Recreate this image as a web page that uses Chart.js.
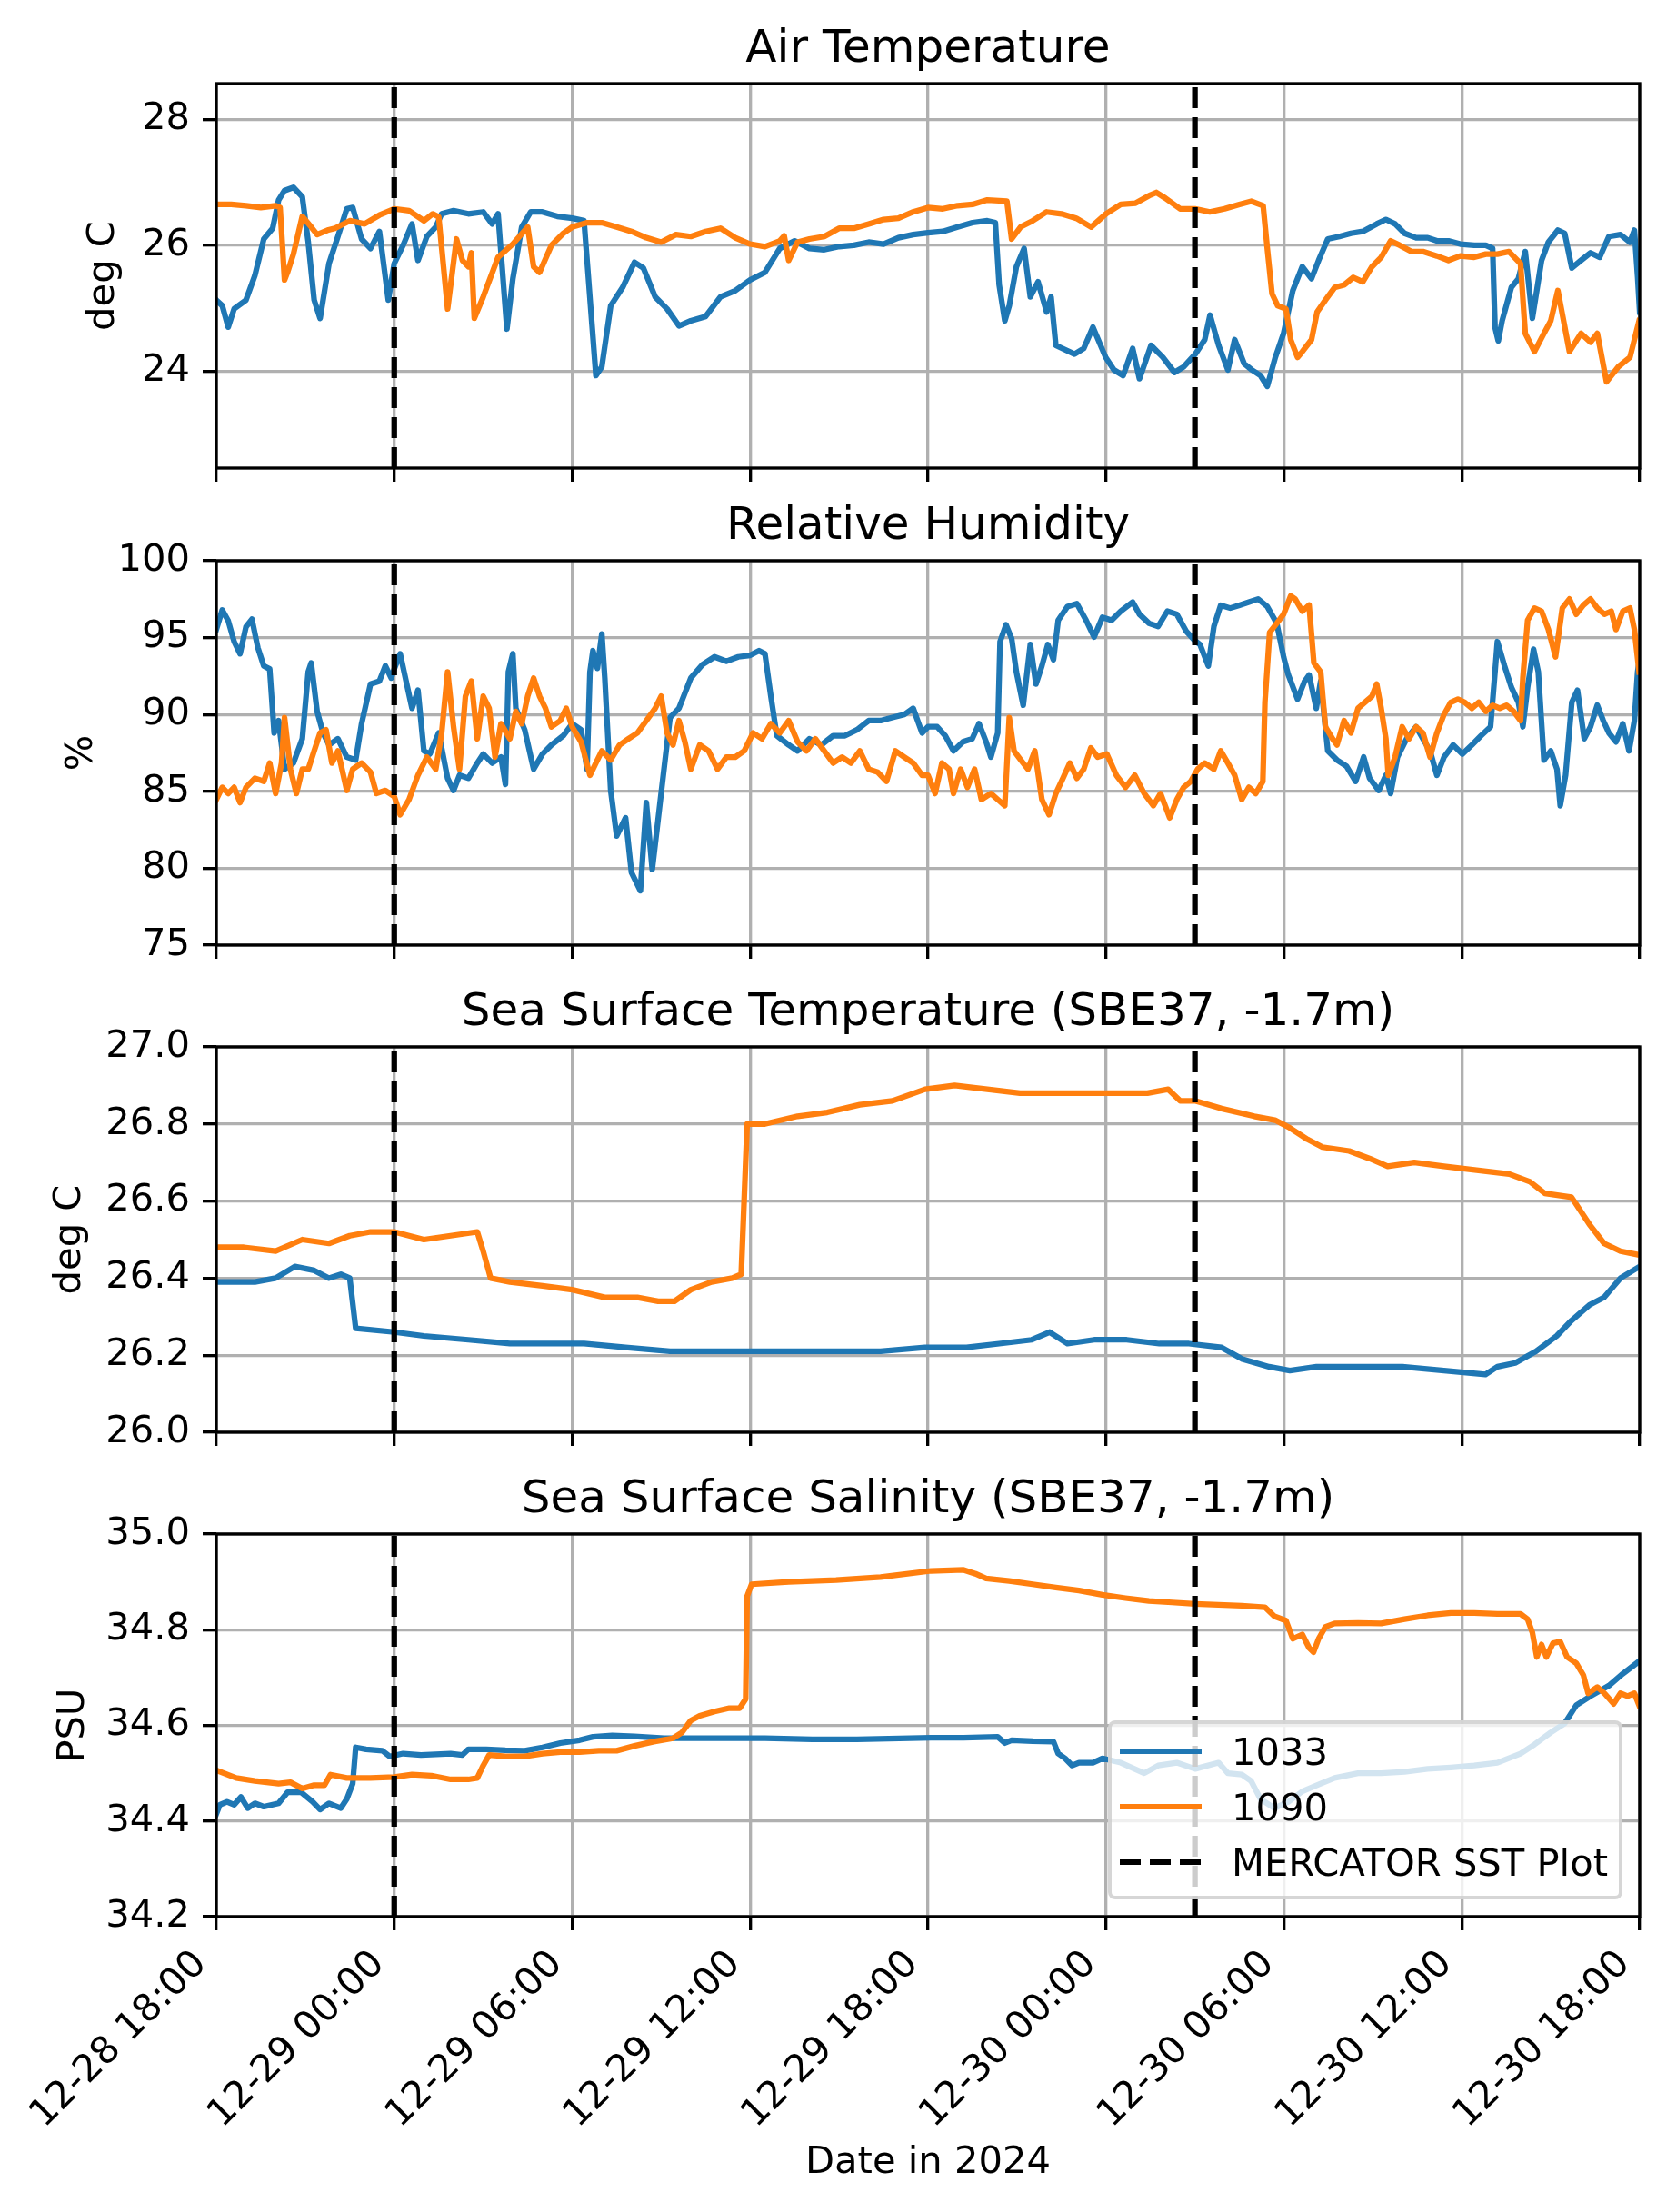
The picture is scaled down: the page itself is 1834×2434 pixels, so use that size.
<!DOCTYPE html>
<html>
<head>
<meta charset="utf-8">
<title>SBE37 / met sensors 1033 vs 1090</title>
<script src="https://cdn.jsdelivr.net/npm/chart.js@4.4.1/dist/chart.umd.min.js"></script>
<style>
  body { margin: 0; background: #fff; }
  #page { position: relative; width: 1834px; height: 2434px; overflow: hidden; font-family: "DejaVu Sans", sans-serif; }
  #page canvas { position: absolute; left: 0; }
  #legend {
    position: absolute; left: 1219px; top: 1893px; width: 566px; height: 197px;
    box-sizing: border-box; background: rgba(255, 255, 255, 0.8);
    border: 4px solid rgba(204, 204, 204, 0.8); border-radius: 8px;
    font-size: 41.67px; color: #000;
  }
  #legend .row { position: absolute; left: 0; right: 0; height: 61px; line-height: 61px; }
  #legend .handle { position: absolute; left: 9px; top: 27px; width: 90px; height: 6.25px; }
  #legend .text { position: absolute; left: 132px; top: 0; white-space: nowrap; }
</style>
</head>
<body>
<div id="page">
  <canvas id="airTemp"></canvas>
  <canvas id="humidity"></canvas>
  <canvas id="seaTemp"></canvas>
  <canvas id="salinity"></canvas>
  <div id="legend"></div>
</div>
<script>
// =========================
// DATA  (x = hours after 2024-12-28 18:00)
// =========================

const sensorNames = ["1033", "1090"];
const mercatorLabel = "MERCATOR SST Plot";
const mercatorHours = [6, 33];   // 12-29 00:00 and 12-30 03:00

const xTickHours = [0, 6, 12, 18, 24, 30, 36, 42, 48];
const xTickLabels = ["12-28 18:00", "12-29 00:00", "12-29 06:00", "12-29 12:00", "12-29 18:00",
                     "12-30 00:00", "12-30 06:00", "12-30 12:00", "12-30 18:00"];

// Air temperature (deg C)
const airT1033 = [[0,25.13],[0.2,25.04],[0.4,24.70],[0.6,24.99],[1,25.13],[1.3,25.52],[1.6,26.10],[1.9,26.27],[2.1,26.72],[2.3,26.87],[2.6,26.92],[2.9,26.77],[3.1,26.05],[3.3,25.13],[3.5,24.84],[3.8,25.71],[4.1,26.14],[4.4,26.58],[4.6,26.60],[4.9,26.10],[5.2,25.95],[5.5,26.22],[5.8,25.13],[6,25.71],[6.3,26.00],[6.6,26.34],[6.8,25.76],[7.1,26.14],[7.4,26.29],[7.6,26.50],[8,26.55],[8.5,26.50],[9,26.53],[9.3,26.34],[9.5,26.50],[9.8,24.67],[10,25.47],[10.3,26.29],[10.6,26.53],[11,26.53],[11.5,26.46],[12,26.43],[12.4,26.39],[12.8,23.93],[13,24.07],[13.3,25.04],[13.7,25.33],[14.1,25.73],[14.4,25.64],[14.8,25.18],[15.2,24.99],[15.6,24.72],[16,24.80],[16.5,24.87],[17,25.18],[17.5,25.28],[18,25.45],[18.5,25.57],[19,25.95],[19.5,26.07],[20,25.95],[20.5,25.93],[21,25.98],[21.5,26.00],[22,26.05],[22.5,26.02],[23,26.12],[23.5,26.17],[24,26.20],[24.5,26.22],[25,26.29],[25.5,26.36],[26,26.39],[26.27,26.36],[26.4,25.37],[26.59,24.80],[26.74,25.04],[26.98,25.66],[27.24,25.95],[27.45,25.18],[27.71,25.42],[28,24.94],[28.15,25.18],[28.31,24.41],[28.94,24.27],[29.25,24.36],[29.56,24.70],[29.99,24.22],[30.27,24.02],[30.58,23.93],[30.9,24.36],[31.13,23.88],[31.52,24.41],[31.92,24.22],[32.31,23.98],[32.62,24.07],[33.01,24.27],[33.33,24.50],[33.51,24.89],[33.8,24.41],[34.11,24.02],[34.34,24.50],[34.66,24.12],[34.92,24.02],[35.21,23.93],[35.44,23.76],[35.71,24.22],[35.99,24.60],[36.3,25.28],[36.62,25.66],[36.93,25.47],[37.17,25.76],[37.48,26.10],[37.87,26.14],[38.26,26.19],[38.66,26.22],[39.13,26.34],[39.44,26.41],[39.75,26.34],[40.07,26.19],[40.46,26.12],[40.85,26.12],[41.16,26.07],[41.55,26.07],[41.95,26.02],[42.42,26.00],[42.81,26.00],[43.04,25.95],[43.12,24.70],[43.23,24.48],[43.36,24.80],[43.67,25.33],[43.91,25.47],[44.14,25.90],[44.38,24.84],[44.69,25.76],[44.92,26.05],[45.24,26.24],[45.47,26.19],[45.71,25.64],[46.02,25.76],[46.34,25.88],[46.65,25.81],[46.96,26.14],[47.35,26.17],[47.67,26.05],[47.82,26.24],[47.93,25.50],[48,24.94]];
const airT1090 = [[0,26.65],[0.5,26.65],[1,26.63],[1.5,26.60],[2,26.63],[2.15,26.60],[2.3,25.45],[2.4,25.57],[2.6,25.86],[2.9,26.46],[3.2,26.29],[3.4,26.17],[3.75,26.24],[4,26.27],[4.5,26.39],[5,26.34],[5.5,26.48],[6,26.58],[6.5,26.55],[7,26.39],[7.3,26.50],[7.5,26.45],[7.8,24.99],[8.1,26.10],[8.3,25.76],[8.5,25.66],[8.6,25.88],[8.7,24.84],[9,25.18],[9.5,25.81],[10,26.02],[10.5,26.29],[10.7,25.66],[10.9,25.57],[11.3,26.00],[11.7,26.19],[12,26.29],[12.5,26.36],[13,26.36],[13.5,26.29],[14,26.22],[14.5,26.12],[15,26.05],[15.5,26.17],[16,26.14],[16.5,26.22],[17,26.27],[17.5,26.12],[18,26.02],[18.5,25.98],[19,26.07],[19.15,26.15],[19.3,25.76],[19.6,26.05],[20,26.10],[20.5,26.14],[21,26.27],[21.5,26.27],[22,26.34],[22.5,26.41],[23,26.43],[23.5,26.53],[24,26.60],[24.5,26.58],[25,26.63],[25.5,26.65],[26,26.72],[26.66,26.70],[26.82,26.10],[27.12,26.29],[27.53,26.39],[28,26.53],[28.5,26.50],[29,26.43],[29.5,26.29],[30,26.50],[30.5,26.65],[31,26.67],[31.5,26.80],[31.7,26.84],[32,26.75],[32.5,26.58],[33,26.58],[33.5,26.53],[34,26.58],[34.5,26.65],[34.9,26.70],[35.3,26.63],[35.44,25.95],[35.6,25.23],[35.79,25.04],[36.07,24.99],[36.23,24.50],[36.46,24.22],[36.62,24.31],[36.93,24.50],[37.12,24.94],[37.4,25.13],[37.71,25.33],[38.03,25.37],[38.34,25.49],[38.66,25.42],[38.97,25.66],[39.28,25.81],[39.6,26.07],[39.91,26.00],[40.3,25.90],[40.69,25.90],[41.16,25.83],[41.55,25.76],[41.95,25.83],[42.42,25.81],[42.81,25.86],[43.2,25.86],[43.59,25.90],[43.98,25.71],[44.14,24.60],[44.45,24.31],[44.77,24.60],[45,24.80],[45.24,25.28],[45.63,24.31],[46.02,24.60],[46.34,24.46],[46.57,24.60],[46.88,23.83],[47.28,24.07],[47.67,24.22],[47.98,24.80]];

// Relative humidity (%)
const rh1033 = [[0,95.53],[0.2,96.80],[0.4,96.10],[0.6,94.74],[0.8,93.95],[1,95.70],[1.2,96.20],[1.4,94.35],[1.6,93.16],[1.8,92.96],[1.95,88.80],[2.1,89.60],[2.3,86.44],[2.6,86.84],[2.9,88.42],[3.1,92.77],[3.2,93.36],[3.4,90.20],[3.6,88.80],[3.8,88.02],[4.1,88.42],[4.4,87.23],[4.7,87.04],[4.9,89.40],[5.2,91.98],[5.5,92.17],[5.7,93.16],[5.9,92.37],[6,92.96],[6.2,93.95],[6.4,92.17],[6.6,90.40],[6.8,91.58],[7,87.63],[7.2,87.43],[7.5,88.80],[7.8,85.85],[8,85.06],[8.2,86.05],[8.5,85.85],[8.8,86.84],[9,87.43],[9.3,86.84],[9.6,87.23],[9.75,85.45],[9.85,92.77],[10,93.95],[10.1,90.40],[10.4,89.00],[10.7,86.44],[11,87.43],[11.3,88.02],[11.7,88.62],[12,89.40],[12.3,89.00],[12.5,86.44],[12.6,92.77],[12.7,94.15],[12.85,93.00],[13,95.24],[13.1,92.37],[13.3,85.06],[13.5,82.10],[13.8,83.28],[14,79.72],[14.3,78.54],[14.5,84.27],[14.7,79.92],[15,84.86],[15.3,89.80],[15.6,90.40],[16,92.37],[16.4,93.26],[16.8,93.75],[17.2,93.46],[17.6,93.75],[18,93.85],[18.3,94.15],[18.5,93.95],[18.7,91.19],[18.9,88.62],[19.3,88.02],[19.6,87.63],[20,88.42],[20.4,88.02],[20.8,88.62],[21.2,88.62],[21.6,89.00],[22,89.60],[22.4,89.60],[22.8,89.80],[23.2,90.00],[23.5,90.40],[23.8,88.80],[24,89.20],[24.31,89.20],[24.58,88.62],[24.86,87.63],[25.18,88.22],[25.49,88.42],[25.72,89.40],[25.96,88.22],[26.12,87.23],[26.35,88.80],[26.43,94.74],[26.63,95.83],[26.82,94.94],[26.98,92.77],[27.21,90.60],[27.45,94.55],[27.64,91.98],[27.84,93.16],[28.04,94.55],[28.23,93.56],[28.39,96.13],[28.7,97.02],[29.02,97.21],[29.33,96.13],[29.6,95.04],[29.88,96.32],[30.19,96.13],[30.5,96.72],[30.9,97.31],[31.13,96.52],[31.45,95.93],[31.76,95.73],[32.07,96.72],[32.39,96.52],[32.7,95.43],[32.98,94.84],[33.17,94.55],[33.45,93.16],[33.64,95.73],[33.87,97.11],[34.19,96.92],[34.5,97.11],[34.82,97.31],[35.13,97.51],[35.44,97.02],[35.76,95.93],[35.99,93.75],[36.15,92.57],[36.46,90.99],[36.7,92.17],[36.85,92.57],[37.09,90.40],[37.24,92.17],[37.48,87.63],[37.79,87.04],[38.11,86.64],[38.42,85.65],[38.69,87.23],[38.89,85.85],[39.2,85.06],[39.44,86.05],[39.6,84.86],[39.83,87.23],[40.14,88.42],[40.46,89.20],[40.69,88.42],[40.93,87.63],[41.16,86.05],[41.4,87.23],[41.71,88.02],[42.02,87.43],[42.34,88.02],[42.65,88.62],[42.97,89.20],[43.12,92.77],[43.2,94.74],[43.44,93.16],[43.67,91.78],[43.91,90.79],[44.06,89.20],[44.22,91.78],[44.42,94.25],[44.58,92.77],[44.77,87.04],[45,87.63],[45.21,86.44],[45.32,84.07],[45.5,86.05],[45.71,90.79],[45.9,91.58],[46.13,88.42],[46.34,89.20],[46.57,90.60],[46.77,89.60],[46.96,88.80],[47.2,88.22],[47.43,89.40],[47.64,87.63],[47.82,89.60],[47.93,92.77],[48,93.75]];
const rh1090 = [[0,84.47],[0.2,85.26],[0.4,84.86],[0.6,85.26],[0.8,84.27],[1,85.26],[1.3,85.85],[1.6,85.65],[1.8,86.84],[2,84.86],[2.2,86.84],[2.3,89.80],[2.5,86.44],[2.7,84.86],[2.9,86.44],[3.1,86.44],[3.3,87.63],[3.5,88.80],[3.7,89.00],[3.9,86.84],[4.1,87.63],[4.4,85.06],[4.6,86.44],[4.9,86.84],[5.2,86.25],[5.4,84.86],[5.7,85.06],[6,84.67],[6.2,83.48],[6.5,84.47],[6.8,86.05],[7.1,87.23],[7.4,86.44],[7.6,88.80],[7.8,92.77],[8,89.20],[8.2,86.44],[8.4,91.19],[8.6,92.17],[8.8,88.42],[9,91.19],[9.2,90.40],[9.4,87.23],[9.6,89.40],[9.9,88.42],[10.1,90.20],[10.3,89.40],[10.5,91.19],[10.7,92.37],[10.9,91.19],[11.1,90.40],[11.3,89.20],[11.6,89.60],[11.8,90.40],[12,89.20],[12.3,88.22],[12.6,86.05],[12.8,86.84],[13,87.63],[13.3,87.04],[13.6,88.02],[13.9,88.42],[14.2,88.80],[14.5,89.60],[14.8,90.40],[15,91.19],[15.2,88.80],[15.4,88.02],[15.6,89.60],[15.8,88.22],[16,86.44],[16.3,88.02],[16.6,87.63],[16.9,86.44],[17.2,87.23],[17.5,87.23],[17.8,87.63],[18.1,88.80],[18.4,88.42],[18.7,89.40],[19,88.80],[19.3,89.60],[19.6,88.22],[19.9,87.63],[20.2,88.42],[20.5,87.63],[20.8,86.84],[21.1,87.23],[21.4,86.84],[21.7,87.63],[22,86.44],[22.3,86.25],[22.6,85.65],[22.9,87.63],[23.2,87.23],[23.5,86.84],[23.8,86.05],[24,86.05],[24.24,84.86],[24.47,86.84],[24.71,86.44],[24.86,84.86],[25.1,86.44],[25.33,85.26],[25.57,86.44],[25.8,84.47],[26.12,84.86],[26.35,84.47],[26.59,84.07],[26.74,89.80],[26.9,87.63],[27.13,87.04],[27.37,86.44],[27.6,87.63],[27.84,84.47],[28.08,83.48],[28.31,84.86],[28.55,85.85],[28.78,86.84],[29.02,85.85],[29.25,86.44],[29.49,87.83],[29.72,87.23],[30.03,87.43],[30.35,86.05],[30.66,85.26],[30.97,86.05],[31.29,84.86],[31.6,84.07],[31.84,84.86],[32.15,83.28],[32.39,84.47],[32.62,85.26],[32.86,85.65],[33.09,86.44],[33.33,86.84],[33.64,86.44],[33.87,87.63],[34.11,86.84],[34.34,86.05],[34.58,84.47],[34.82,85.26],[35.05,84.86],[35.29,85.65],[35.36,90.79],[35.52,95.34],[35.76,95.93],[35.99,96.52],[36.23,97.71],[36.38,97.51],[36.62,96.72],[36.85,97.11],[37.01,93.36],[37.24,92.77],[37.4,89.20],[37.64,88.42],[37.79,88.02],[38.03,89.60],[38.26,88.80],[38.5,90.40],[38.73,90.79],[38.97,91.19],[39.13,91.98],[39.28,90.40],[39.44,88.42],[39.52,86.05],[39.75,87.23],[39.99,89.20],[40.22,88.42],[40.46,89.20],[40.69,88.80],[40.93,87.23],[41.16,88.80],[41.4,90.00],[41.63,90.79],[41.87,90.99],[42.1,90.79],[42.34,90.40],[42.57,90.79],[42.81,90.20],[43.04,90.60],[43.28,90.40],[43.51,90.60],[43.75,90.20],[43.98,89.60],[44.06,92.37],[44.22,96.13],[44.45,96.92],[44.69,96.72],[44.92,95.53],[45.16,93.75],[45.39,96.92],[45.63,97.51],[45.86,96.52],[46.1,97.11],[46.34,97.51],[46.57,96.92],[46.81,96.52],[47.04,96.72],[47.2,95.53],[47.43,96.72],[47.67,96.92],[47.82,95.53],[47.98,92.77]];

// Sea surface temperature, SBE37 at -1.7 m (deg C)
const sst1033 = [[0,26.39],[1.3,26.39],[2,26.40],[2.65,26.43],[3.3,26.42],[3.8,26.40],[4.2,26.41],[4.5,26.40],[4.7,26.27],[6,26.26],[7,26.25],[8.5,26.24],[9.9,26.23],[11.3,26.23],[12.4,26.23],[13.8,26.22],[15.3,26.21],[16.7,26.21],[18.1,26.21],[19.6,26.21],[21,26.21],[22.4,26.21],[23.9,26.22],[25.3,26.22],[26.4,26.23],[27.5,26.24],[28.1,26.26],[28.7,26.23],[29.6,26.24],[30.7,26.24],[31.8,26.23],[32.8,26.23],[33.9,26.22],[34.6,26.19],[35.5,26.17],[36.2,26.16],[37.1,26.17],[38.5,26.17],[40,26.17],[41.4,26.16],[42.8,26.15],[43.2,26.17],[43.8,26.18],[44.5,26.21],[45.2,26.25],[45.7,26.29],[46.3,26.33],[46.8,26.35],[47.35,26.40],[48,26.43]];
const sst1090 = [[0,26.48],[0.93,26.48],[2,26.47],[2.9,26.50],[3.8,26.49],[4.5,26.51],[5.2,26.52],[6,26.52],[7,26.50],[7.9,26.51],[8.8,26.52],[9,26.47],[9.25,26.40],[9.9,26.39],[11,26.38],[12,26.37],[13.1,26.35],[14.2,26.35],[14.9,26.34],[15.45,26.34],[16,26.37],[16.7,26.39],[17.4,26.40],[17.7,26.41],[17.9,26.80],[18.5,26.80],[19.6,26.82],[20.6,26.83],[21.7,26.85],[22.8,26.86],[23.9,26.89],[24.9,26.90],[26,26.89],[27.1,26.88],[28.2,26.88],[29.2,26.88],[30.3,26.88],[31.4,26.88],[32.1,26.89],[32.5,26.86],[33,26.86],[33.9,26.84],[35,26.82],[35.7,26.81],[36.2,26.79],[36.8,26.76],[37.3,26.74],[38.2,26.73],[38.9,26.71],[39.5,26.69],[40.4,26.70],[41.4,26.69],[42.5,26.68],[43.6,26.67],[44.3,26.65],[44.8,26.62],[45.7,26.61],[46.3,26.54],[46.8,26.49],[47.35,26.47],[48,26.46]];

// Sea surface salinity, SBE37 at -1.7 m (PSU)
const sss1033 = [[0,34.415],[0.12,34.434],[0.36,34.440],[0.6,34.434],[0.83,34.450],[1.06,34.427],[1.3,34.437],[1.6,34.430],[2.1,34.437],[2.4,34.460],[2.86,34.460],[3.25,34.440],[3.5,34.424],[3.8,34.437],[4.2,34.427],[4.4,34.446],[4.6,34.478],[4.7,34.554],[5.05,34.550],[5.6,34.547],[5.85,34.535],[6.3,34.541],[6.9,34.538],[7.9,34.541],[8.3,34.538],[8.5,34.550],[9.1,34.550],[9.75,34.548],[10.4,34.547],[11,34.554],[11.6,34.563],[12.25,34.569],[12.7,34.576],[13.35,34.579],[14.1,34.577],[15.1,34.573],[17,34.573],[18.5,34.573],[20.1,34.571],[21.6,34.571],[24.1,34.574],[25.2,34.574],[26.35,34.576],[26.59,34.563],[26.82,34.569],[27.53,34.567],[28.23,34.566],[28.39,34.541],[28.62,34.531],[28.86,34.516],[29.09,34.522],[29.56,34.522],[29.88,34.531],[30.5,34.522],[31.29,34.500],[31.76,34.516],[32.39,34.522],[33.01,34.509],[33.8,34.522],[34.11,34.500],[34.58,34.497],[34.89,34.484],[35.21,34.446],[35.68,34.427],[36.15,34.440],[36.62,34.462],[37.24,34.478],[37.71,34.490],[38.5,34.500],[39.28,34.500],[40.07,34.503],[40.85,34.509],[41.63,34.512],[42.42,34.516],[43.2,34.522],[43.98,34.541],[44.45,34.560],[45,34.585],[45.47,34.604],[45.86,34.642],[46.34,34.661],[46.96,34.683],[47.43,34.708],[47.98,34.734]];
const sss1090 = [[0,34.506],[0.67,34.490],[1.3,34.484],[2.1,34.478],[2.5,34.481],[2.9,34.468],[3.3,34.475],[3.65,34.475],[3.85,34.497],[4.4,34.490],[5.2,34.490],[6,34.492],[6.6,34.497],[7.25,34.495],[7.9,34.487],[8.5,34.487],[8.8,34.490],[9,34.516],[9.2,34.538],[9.75,34.535],[10.4,34.535],[11,34.541],[11.6,34.544],[12.25,34.544],[12.9,34.547],[13.5,34.547],[14.1,34.557],[14.75,34.566],[15.4,34.573],[15.7,34.585],[16,34.610],[16.3,34.620],[16.8,34.629],[17.3,34.636],[17.65,34.636],[17.85,34.655],[17.9,34.870],[18.05,34.895],[19.3,34.900],[20.9,34.904],[22.4,34.910],[24.1,34.923],[25.2,34.925],[25.6,34.917],[25.96,34.907],[26.74,34.902],[27.53,34.895],[28.31,34.888],[29.09,34.882],[29.88,34.873],[30.66,34.866],[31.45,34.860],[32.23,34.857],[33.01,34.854],[33.8,34.852],[34.58,34.850],[35.36,34.847],[35.68,34.828],[36.07,34.819],[36.3,34.781],[36.62,34.790],[36.85,34.762],[37,34.753],[37.17,34.781],[37.4,34.806],[37.71,34.813],[38.5,34.814],[39.28,34.813],[40.07,34.822],[40.85,34.830],[41.63,34.835],[42.42,34.835],[43.2,34.833],[43.98,34.833],[44.22,34.822],[44.38,34.794],[44.53,34.743],[44.69,34.769],[44.85,34.743],[45.08,34.772],[45.32,34.775],[45.55,34.743],[45.86,34.730],[46.1,34.705],[46.26,34.667],[46.57,34.680],[46.81,34.667],[47.12,34.645],[47.35,34.667],[47.59,34.661],[47.82,34.667],[47.98,34.642]];

// y limits and ticks per panel
const airTLimits = [22.46, 28.57];
const airTTicks = [24, 26, 28];
const airTTickLabels = ["24", "26", "28"];
const rhLimits = [75, 100];
const rhTicks = [75, 80, 85, 90, 95, 100];
const rhTickLabels = ["75", "80", "85", "90", "95", "100"];
const sstLimits = [26.0, 27.0];
const sstTicks = [26.0, 26.2, 26.4, 26.6, 26.8, 27.0];
const sstTickLabels = ["26.0", "26.2", "26.4", "26.6", "26.8", "27.0"];
const sssLimits = [34.2, 35.0];
const sssTicks = [34.2, 34.4, 34.6, 34.8, 35.0];
const sssTickLabels = ["34.2", "34.4", "34.6", "34.8", "35.0"];


// =========================
// STYLE
// =========================

const BLUE = "#1f77b4";
const ORANGE = "#ff7f0e";
const LINE_W = 6.25;      // 1.5 pt at 300 dpi
const THIN = 3.33;        // 0.8 pt
const FONT = 41.67;       // 10 pt

Chart.defaults.font.family = '"DejaVu Sans", sans-serif';
Chart.defaults.color = "#000";

// black box round the plot area (matplotlib spines)
const frame = {
    id: "frame",
    afterDatasetsDraw(chart) {
        const a = chart.chartArea;
        const ctx = chart.ctx;
        ctx.save();
        ctx.strokeStyle = "#000";
        ctx.lineWidth = THIN;
        ctx.strokeRect(a.left, a.top, a.right - a.left, a.bottom - a.top);
        ctx.restore();
    }
};

function toPoints(pairs) {
    return pairs.map(p => ({ x: p[0], y: p[1] }));
}

function makePanel(p) {
    const canvas = document.getElementById(p.id);
    const height = p.areaBottom - p.canvasTop + p.xAxisHeight;
    canvas.width = 1834;
    canvas.height = height;
    canvas.style.top = p.canvasTop + "px";
    canvas.style.width = "1834px";
    canvas.style.height = height + "px";

    // vertical dashed lines, one gap point between them
    const mercator = [];
    mercatorHours.forEach((h, i) => {
        if (i > 0) mercator.push({ x: h, y: null });
        mercator.push({ x: h, y: p.limits[0] }, { x: h, y: p.limits[1] });
    });

    const lineStyle = { borderWidth: LINE_W, pointRadius: 0, borderJoinStyle: "round", borderCapStyle: "square", clip: 0 };

    return new Chart(canvas, {
        type: "line",
        data: {
            datasets: [
                Object.assign({ label: sensorNames[0], data: toPoints(p.s1033), borderColor: BLUE, order: 3 }, lineStyle),
                Object.assign({ label: sensorNames[1], data: toPoints(p.s1090), borderColor: ORANGE, order: 2 }, lineStyle),
                { label: mercatorLabel, data: mercator, borderColor: "#000", borderWidth: LINE_W, borderDash: [23, 10],
                  borderCapStyle: "butt", pointRadius: 0, spanGaps: false, order: 1, clip: 0 }
            ]
        },
        options: {
            responsive: false,
            animation: false,
            devicePixelRatio: 1,
            layout: { padding: { left: p.padLeft, right: 30, top: 0, bottom: 0 } },
            plugins: {
                legend: { display: false },
                tooltip: { enabled: false },
                title: {
                    display: true,
                    text: p.title,
                    fullSize: false,
                    color: "#000",
                    font: { size: 50, weight: "normal" },
                    padding: { top: 15, bottom: 7 }
                }
            },
            scales: {
                x: {
                    type: "linear",
                    min: 0,
                    max: 48,
                    afterBuildTicks: axis => { axis.ticks = xTickHours.map(v => ({ value: v })); },
                    afterFit: axis => { axis.height = p.xAxisHeight; axis.paddingLeft = 0; axis.paddingRight = 0; },
                    border: { display: false },
                    grid: { color: "#b0b0b0", lineWidth: THIN, tickColor: "#000", tickWidth: THIN, tickLength: 15 },
                    ticks: {
                        display: p.showX,
                        autoSkip: false,
                        minRotation: 45,
                        maxRotation: 45,
                        padding: 13,
                        labelOffset: -17,
                        font: { size: FONT },
                        callback: (v, i) => xTickLabels[i]
                    },
                    title: { display: p.showX, text: "Date in 2024", font: { size: FONT }, padding: { top: 4, bottom: 4 } }
                },
                y: {
                    min: p.limits[0],
                    max: p.limits[1],
                    afterBuildTicks: axis => { axis.ticks = p.ticks.map(v => ({ value: v })); },
                    afterFit: axis => { axis.width = 238 - p.padLeft; axis.paddingTop = 0; axis.paddingBottom = 0; },
                    border: { display: false },
                    grid: { color: "#b0b0b0", lineWidth: THIN, tickColor: "#000", tickWidth: THIN, tickLength: 15 },
                    ticks: { padding: 14, font: { size: FONT }, callback: (v, i) => p.tickLabels[i] },
                    title: { display: true, text: p.yLabel, font: { size: FONT }, padding: { top: 4, bottom: 4 } }
                }
            }
        },
        plugins: [frame]
    });
}


// =========================
// PANELS
// =========================

makePanel({ id: "airTemp", title: "Air Temperature", yLabel: "deg C", s1033: airT1033, s1090: airT1090,
            limits: airTLimits, ticks: airTTicks, tickLabels: airTTickLabels,
            canvasTop: 10, areaBottom: 515, xAxisHeight: 30, padLeft: 85, showX: false });

makePanel({ id: "humidity", title: "Relative Humidity", yLabel: "%", s1033: rh1033, s1090: rh1090,
            limits: rhLimits, ticks: rhTicks, tickLabels: rhTickLabels,
            canvasTop: 535, areaBottom: 1040, xAxisHeight: 30, padLeft: 61, showX: false });

makePanel({ id: "seaTemp", title: "Sea Surface Temperature (SBE37, -1.7m)", yLabel: "deg C", s1033: sst1033, s1090: sst1090,
            limits: sstLimits, ticks: sstTicks, tickLabels: sstTickLabels,
            canvasTop: 1070, areaBottom: 1576, xAxisHeight: 30, padLeft: 48, showX: false });

const salinityChart = makePanel({ id: "salinity", title: "Sea Surface Salinity (SBE37, -1.7m)", yLabel: "PSU", s1033: sss1033, s1090: sss1090,
            limits: sssLimits, ticks: sssTicks, tickLabels: sssTickLabels,
            canvasTop: 1606, areaBottom: 2109, xAxisHeight: 300, padLeft: 52, showX: true });


// =========================
// LEGEND (inside the salinity axes, lower right)
// =========================

const legendBox = document.getElementById("legend");
salinityChart.data.datasets.forEach((ds, i) => {
    const row = document.createElement("div");
    row.className = "row";
    row.style.top = (i * 61) + "px";

    const handle = document.createElement("div");
    handle.className = "handle";
    if (ds.borderDash) {
        handle.style.background = "repeating-linear-gradient(90deg, #000 0 23px, transparent 23px 33px)";
    } else {
        handle.style.background = ds.borderColor;
    }

    const text = document.createElement("span");
    text.className = "text";
    text.textContent = ds.label;

    row.appendChild(handle);
    row.appendChild(text);
    legendBox.appendChild(row);
});
</script>
</body>
</html>
